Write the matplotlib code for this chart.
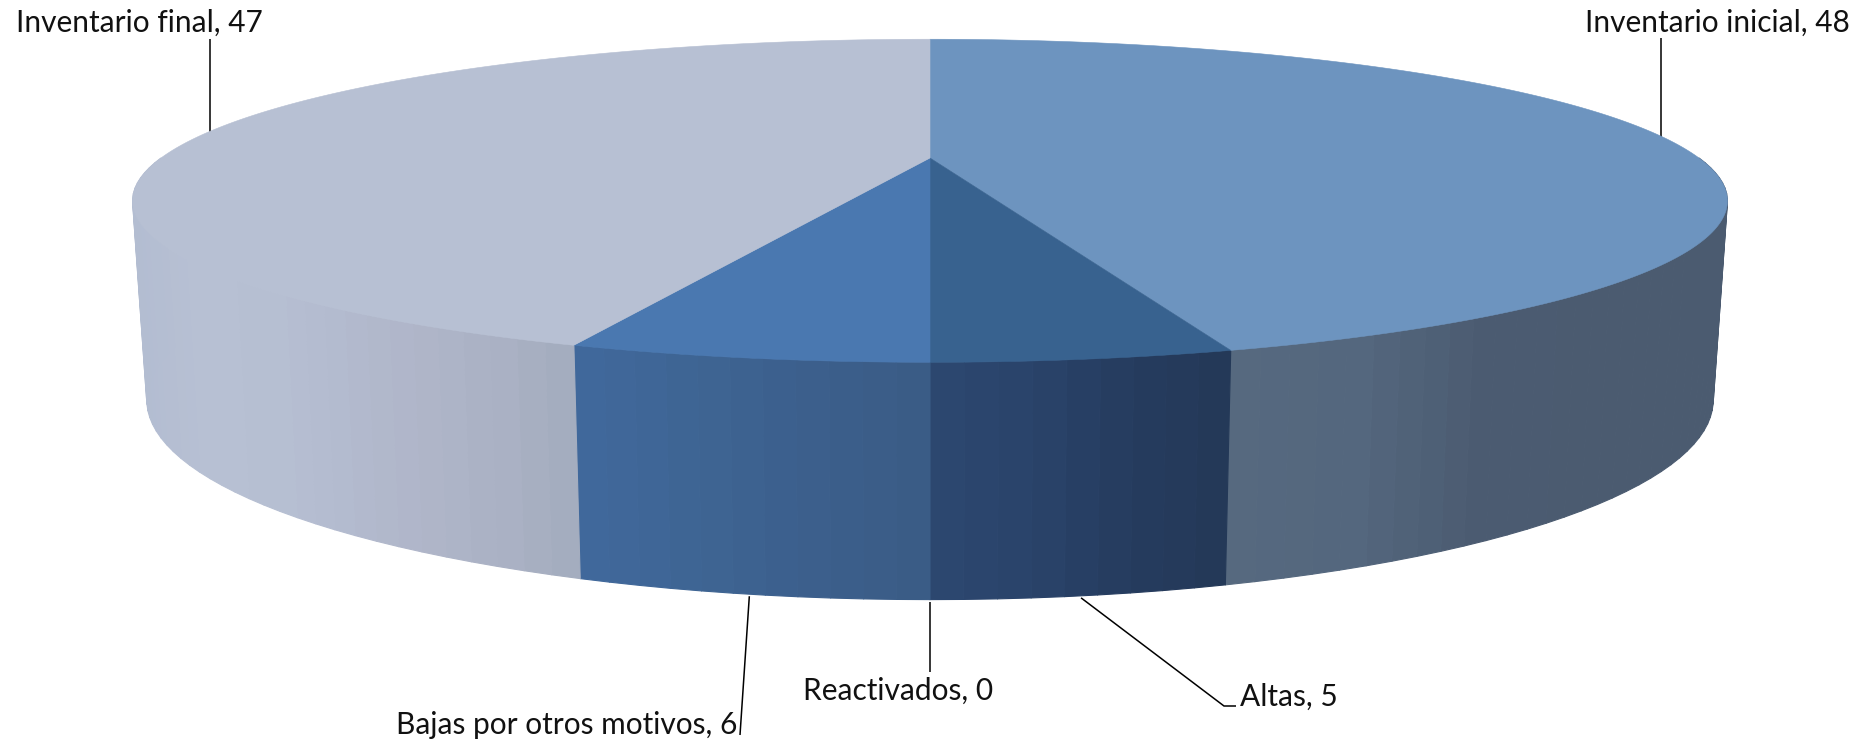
import numpy as np
import matplotlib
matplotlib.use("Agg")
import matplotlib.pyplot as plt
from matplotlib.collections import PolyCollection
from matplotlib.colors import to_rgb

labels = ["Inventario inicial", "Altas", "Reactivados", "Bajas por otros motivos", "Inventario final"]
values = [48, 5, 0, 6, 47]

top_colors = ["#6D94BF", "#38628F", "#38628F", "#4A78B0", "#B7C0D3"]
# wall shading, from the wedge's screen left to its screen right
wall_stops = [
    ["#56697F", "#54677E", "#4B5B71", "#4B5B70", "#4B5B70"],
    ["#2C4870", "#2A436A", "#253C5E", "#243857"],
    ["#2C4870", "#243857"],
    ["#41699D", "#3E6594", "#3C5F8C", "#3A5B85"],
    ["#B2BCD1", "#B7C0D3", "#B6BFD2", "#B3BACE", "#AFB5C8", "#AAB1C4", "#A3ACBE"],
]

# perspective model of the disc, in pixels
CX = 930.0
K = 0.2647
TOP = dict(A=769.0, B=150.2, Y0=158.0)
BOT = dict(A=755.3, B=185.6, Y0=347.2)


def project(theta, p):
    w = 1 + K * np.cos(theta)
    return CX + p["A"] * np.sin(theta) / w, p["Y0"] - p["B"] * np.cos(theta) / w


def mix(stops, t):
    cols = np.array([to_rgb(c) for c in stops])
    pos = np.linspace(0, 1, len(stops))
    return [np.interp(t, pos, cols[:, i]) for i in range(3)]


fig = plt.figure(figsize=(18.62, 7.41), dpi=100, facecolor="white")
ax = fig.add_axes([0, 0, 1, 1])
ax.set_xlim(0, 1862)
ax.set_ylim(741, 0)
ax.axis("off")

fracs = np.array(values, float) / sum(values)
edges = np.concatenate([[0], np.cumsum(fracs)]) * 2 * np.pi

# walls, drawn as coarse vertical bands
for i in range(len(values)):
    a, b = edges[i], edges[i + 1]
    if b <= a:
        continue
    lo, hi = max(a, np.pi / 2), min(b, 3 * np.pi / 2)
    if hi <= lo:
        continue
    n = max(8, int(np.degrees(hi - lo) / 1.8))
    th = np.linspace(lo, hi, n + 1)
    xt, yt = project(th, TOP)
    xb, yb = project(th, BOT)
    xmin, xmax = min(xt.min(), xb.min()), max(xt.max(), xb.max())
    quads, cols = [], []
    for j in range(n):
        quads.append([(xt[j], yt[j]), (xt[j + 1], yt[j + 1]), (xb[j + 1], yb[j + 1]), (xb[j], yb[j])])
        cols.append(mix(wall_stops[i], (0.5 * (xb[j] + xb[j + 1]) - xmin) / (xmax - xmin)))
    ax.add_collection(PolyCollection(quads, facecolors=cols, edgecolors=cols, linewidths=0.8, zorder=2))

# top face
for i in range(len(values)):
    a, b = edges[i], edges[i + 1]
    if b <= a:
        continue
    th = np.linspace(a, b, 240)
    x, y = project(th, TOP)
    ax.fill(np.r_[CX, x], np.r_[TOP["Y0"], y], facecolor=top_colors[i], edgecolor=top_colors[i], lw=0.4, zorder=3)

# label text and leader end points
label_pos = [(1850, 32, "right"), (1240, 706, "left"), (993, 700, "right"), (737, 734, "right"), (16, 32, "left")]
leader_pts = [[(1661, 38)], [(1224, 706), (1236, 706)], [(930, 672)], [(740, 735)], [(209.5, 39)]]
mid = (edges[:-1] + edges[1:]) / 2
for i, name in enumerate(labels):
    onfront = np.cos(mid[i]) < -0.2647
    sx, sy = project(np.array([mid[i]]), BOT if onfront else TOP)
    x0 = leader_pts[i][0][0] if not onfront else sx[0]
    pts = [(x0, sy[0] + 2)] + leader_pts[i]
    ax.plot([p[0] for p in pts], [p[1] for p in pts], color="black", lw=1.1, zorder=1,
            solid_capstyle="butt", solid_joinstyle="miter")
    tx, ty, ha = label_pos[i]
    ax.text(tx, ty, f"{name}, {values[i]}", ha=ha, va="baseline", fontsize=21.5, family="Lato",
            color="#111111", zorder=5)

fig.savefig("out.png", dpi=100, facecolor="white")
